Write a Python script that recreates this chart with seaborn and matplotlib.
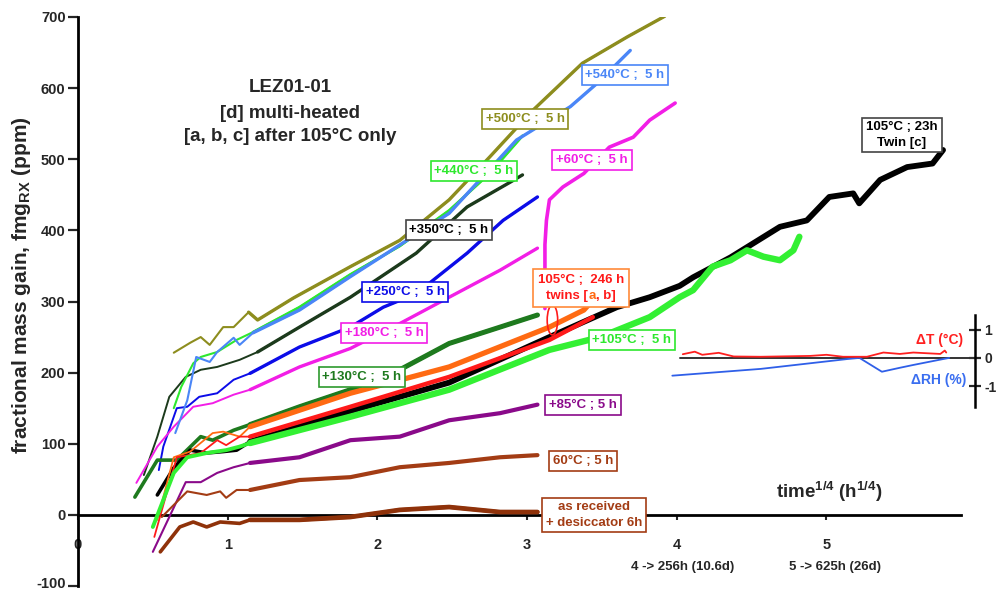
import numpy as np
import seaborn as sns
import matplotlib
matplotlib.use("Agg")
import matplotlib.pyplot as plt
import matplotlib.transforms as mtransforms
from matplotlib.patches import Ellipse
from matplotlib.offsetbox import TextArea, HPacker, VPacker, AnnotationBbox

# ---------------- data (time^1/4 in h^1/4, fractional mass gain in ppm) ----------------
s500_x = [0.64, 0.75, 0.82, 0.88, 0.97, 1.04, 1.14, 1.20, 1.44, 1.82, 2.15, 2.48, 2.75, 3.04, 3.37, 3.67, 3.92]
s500_y = [228, 242, 250, 239, 264, 264, 285, 274, 305, 349, 386, 443, 503, 569, 635, 672, 701]

s540_x = [0.65, 0.73, 0.79, 0.88, 0.93, 1.04, 1.08, 1.17, 1.48, 1.82, 2.48, 2.93, 3.29, 3.47, 3.69]
s540_y = [115, 161, 222, 215, 229, 249, 239, 256, 288, 335, 424, 527, 574, 607, 653]

s440_x = [0.64, 0.69, 0.77, 0.82, 0.93, 1.06, 1.17, 1.48, 1.82, 2.15, 2.48, 2.75, 2.97]
s440_y = [150, 180, 213, 222, 229, 246, 257, 292, 338, 378, 428, 480, 533]

s350_x = [0.44, 0.53, 0.61, 0.72, 0.82, 0.93, 1.08, 1.20, 1.48, 1.82, 2.26, 2.60, 2.89, 2.97]
s350_y = [56, 110, 166, 194, 204, 208, 218, 229, 264, 306, 368, 433, 468, 478]

s250_x = [0.54, 0.57, 0.66, 0.73, 0.81, 0.93, 1.04, 1.15, 1.48, 1.82, 2.04, 2.26, 2.60, 2.84, 3.07]
s250_y = [63, 96, 150, 152, 166, 171, 190, 199, 236, 264, 292, 311, 368, 414, 447]

s180_x = [0.39, 0.53, 0.64, 0.77, 0.90, 1.04, 1.15, 1.48, 1.82, 2.15, 2.48, 2.82, 3.07]
s180_y = [45, 96, 124, 152, 157, 169, 176, 208, 234, 269, 306, 344, 375]

s60b_x = [3.12, 3.12, 3.13, 3.15, 3.24, 3.38, 3.55, 3.71, 3.82, 3.99]
s60b_y = [290, 380, 414, 443, 461, 480, 517, 531, 555, 579]

s130_x = [0.38, 0.53, 0.66, 0.82, 0.90, 1.04, 1.15, 1.48, 1.82, 2.15, 2.48, 2.82, 3.07]
s130_y = [25, 77, 77, 110, 105, 119, 127, 152, 176, 204, 241, 264, 281]

twa_x = [0.53, 0.64, 0.75, 0.90, 0.97, 1.08, 1.15, 1.82, 2.48, 3.15, 3.38, 3.44]
twa_y = [-7, 81, 89, 115, 117, 110, 124, 171, 208, 264, 288, 302]

twb_x = [0.51, 0.66, 0.82, 0.93, 0.99, 1.08, 1.15, 1.82, 2.48, 3.15, 3.44]
twb_y = [-31, 81, 87, 105, 98, 110, 110, 152, 194, 246, 278]

twc_x = [0.53, 0.64, 0.75, 0.86, 0.97, 1.06, 1.15, 1.82, 2.48, 3.15, 3.60, 3.82, 4.02, 4.11, 4.36,
         4.69, 4.87, 5.02, 5.18, 5.22, 5.36, 5.54, 5.71, 5.78]
twc_y = [28, 66, 91, 87, 89, 91, 103, 146, 186, 250, 292, 306, 322, 334, 362,
         405, 414, 447, 452, 438, 471, 489, 494, 513]

s105_x = [0.50, 0.57, 0.64, 0.73, 0.86, 0.99, 1.08, 1.15, 1.82, 2.48, 3.15, 3.49, 3.82, 4.02, 4.11,
          4.24, 4.36, 4.47, 4.58, 4.69, 4.78, 4.82]
s105_y = [-17, 21, 59, 81, 87, 91, 96, 101, 138, 176, 232, 250, 278, 306, 316,
          349, 358, 372, 363, 358, 372, 391]

s85_x = [0.50, 0.72, 0.82, 0.93, 1.04, 1.15, 1.48, 1.82, 2.15, 2.48, 2.82, 3.07]
s85_y = [-52, 46, 46, 59, 67, 73, 81, 105, 110, 133, 143, 155]

s60_x = [0.56, 0.73, 0.86, 0.95, 0.99, 1.06, 1.15, 1.48, 1.82, 2.15, 2.48, 2.82, 3.07]
s60_y = [-3, 33, 28, 33, 24, 35, 35, 49, 53, 67, 73, 81, 84]

sar_x = [0.55, 0.68, 0.77, 0.86, 0.95, 1.08, 1.15, 1.48, 1.82, 2.15, 2.48, 2.82, 3.07]
sar_y = [-52, -17, -10, -17, -10, -12, -7, -7, -3, 7, 11, 4, 4]

# environment deviations (inset)
dT_x = [4.04, 4.12, 4.17, 4.28, 4.38, 4.56, 4.89, 5.00, 5.11, 5.27, 5.38, 5.49, 5.58, 5.76, 5.79, 5.80]
dT_y = [0.13, 0.22, 0.11, 0.18, 0.05, 0.04, 0.07, 0.11, 0.04, 0.04, 0.19, 0.14, 0.19, 0.14, 0.26, 0.19]
dRH_x = [3.97, 4.56, 5.14, 5.22, 5.37, 5.49, 5.58, 5.78, 5.82]
dRH_y = [-0.63, -0.39, -0.04, 0.0, -0.49, -0.35, -0.25, -0.04, 0.0]

x_ticks = [0, 1, 2, 3, 4, 5]
y_ticks = [-100, 0, 100, 200, 300, 400, 500, 600, 700]
inset_ticks = [-1, 0, 1]

# ---------------- style ----------------
sns.set_theme(style="white")
plt.rcParams['font.family'] = ['Liberation Sans', 'DejaVu Sans']
plt.rcParams['font.weight'] = 'bold'
plt.rcParams['mathtext.fontset'] = 'custom'
plt.rcParams['mathtext.rm'] = 'Liberation Sans:bold'
plt.rcParams['mathtext.bf'] = 'Liberation Sans:bold'
plt.rcParams['mathtext.it'] = 'Liberation Sans:bold'

W, H = 998, 592
fig = plt.figure(figsize=(W / 100, H / 100), dpi=100)
fig.patch.set_facecolor('white')


def fx(px):
    return px / W


def fy(py):
    return 1 - py / H


ax = fig.add_axes([fx(78), fy(586), fx(961) - fx(78), fy(17) - fy(586)])
ax.set_facecolor('none')
ax.set_xlim(0, 5.9)
ax.set_ylim(-100, 700)


def draw(x, y, color, lw0, lw1, z, split=1.1):
    x = np.asarray(x, float)
    y = np.asarray(y, float)
    sns.lineplot(x=x, y=y, color=color, lw=lw0, sort=False, estimator=None, ax=ax, zorder=z)
    m = x >= split
    if m.sum() > 1:
        sns.lineplot(x=x[m], y=y[m], color=color, lw=lw1, sort=False, estimator=None, ax=ax, zorder=z,
                     solid_joinstyle='round')


draw(s500_x, s500_y, '#8d8d1e', 1.5, 2.4, 3)
draw(s540_x, s540_y, '#4a86f7', 1.5, 2.4, 3.2)
draw(s440_x, s440_y, '#2ee82e', 1.5, 2.0, 3.1)
draw(s350_x, s350_y, '#1c3a1c', 1.4, 2.4, 3)
draw(s250_x, s250_y, '#0c0ce8', 1.4, 2.4, 3)
draw(s180_x, s180_y, '#f21ee6', 1.4, 2.4, 3)
draw(s60b_x, s60b_y, '#f21ee6', 1.4, 2.6, 2)
draw(s130_x, s130_y, '#1e7a1e', 2.6, 3.6, 3)
draw(twc_x, twc_y, '#000000', 2.6, 4.2, 3)
draw(twa_x, twa_y, '#ff6a12', 1.3, 3.8, 3.1)
draw(twb_x, twb_y, '#ff1a1a', 1.3, 3.2, 3.2)
draw(s105_x, s105_y, '#33f033', 2.8, 4.6, 3.3)
draw(s85_x, s85_y, '#8a0a8a', 1.5, 3.0, 3)
draw(s60_x, s60_y, '#a33c14', 1.5, 3.0, 3)
draw(sar_x, sar_y, '#8f320a', 2.6, 3.4, 3)

# axes styling
for s in ['top', 'right']:
    ax.spines[s].set_visible(False)
ax.spines['bottom'].set_position(('data', 0))
ax.spines['left'].set_linewidth(2.0)
ax.spines['bottom'].set_linewidth(2.0)
ax.spines['left'].set_color('black')
ax.spines['bottom'].set_color('black')
ax.set_xticks(x_ticks)
ax.set_yticks(y_ticks)
ax.set_xticklabels([str(t) for t in x_ticks], fontsize=10.5, fontweight='bold')
ax.set_yticklabels([str(t) for t in y_ticks], fontsize=10.5, fontweight='bold')
ax.tick_params(axis='y', direction='out', length=7, width=1.6, pad=2, left=True)
ax.tick_params(axis='x', direction='out', length=3.5, width=1.5, pad=13, bottom=True)
ax.grid(False)
# keep the lowest tick label inside the picture
lab = ax.get_yticklabels()[0]
lab.set_transform(lab.get_transform() + mtransforms.ScaledTranslation(0, 3 / 100, fig.dpi_scale_trans))

# labels
fig.text(fx(22), fy(285), r'fractional mass gain, fmg$_{\mathregular{RX}}$ (ppm)', rotation=90,
         ha='center', va='center', fontsize=15, fontweight='bold')
fig.text(fx(829), fy(492), r'time$^{\mathregular{1/4}}$ (h$^{\mathregular{1/4}}$)', ha='center', va='center',
         fontsize=13.5, fontweight='bold')
fig.text(fx(683), fy(567), '4 -> 256h (10.6d)', ha='center', va='center', fontsize=9.5, fontweight='bold')
fig.text(fx(835), fy(567), '5 -> 625h (26d)', ha='center', va='center', fontsize=9.5, fontweight='bold')

for txt, py in [('LEZ01-01', 88), ('[d] multi-heated', 113), ('[a, b, c] after 105°C only', 137)]:
    fig.text(fx(290), fy(py), txt, ha='center', va='center', fontsize=13.5, fontweight='bold')


def boxlabel(px, py, text, color, edge=None, fs=9.5):
    fig.text(fx(px), fy(py), text, ha='center', va='center', fontsize=fs, fontweight='bold', color=color,
             linespacing=1.35, zorder=10,
             bbox=dict(boxstyle='square,pad=0.28', fc='white', ec=edge or color, lw=1.2))


boxlabel(625, 75, '+540°C ;  5 h', '#4a86f7')
boxlabel(525, 119, '+500°C ;  5 h', '#8d8d1e')
boxlabel(592, 160, '+60°C ;  5 h', '#f21ee6')
boxlabel(474, 171, '+440°C ;  5 h', '#2ee82e')
boxlabel(449, 230, '+350°C ;  5 h', '#000000', '#444444')
boxlabel(405, 292, '+250°C ;  5 h', '#0c0ce8')
boxlabel(384, 333, '+180°C ;  5 h', '#f21ee6')
boxlabel(362, 377, '+130°C ;  5 h', '#1e7a1e', '#2e9a2e')
boxlabel(632, 340, '+105°C ;  5 h', '#2ee82e')
boxlabel(583, 405, '+85°C ; 5 h', '#8a0a8a')
boxlabel(583, 461, '60°C ; 5 h', '#a33c14')
boxlabel(594, 515, 'as received\n+ desiccator 6h', '#a33c14')
boxlabel(902, 135, '105°C ; 23h\nTwin [c]', '#000000', '#444444')

# twins [a, b] label with mixed colours
tp = dict(fontsize=9.5, fontweight='bold')
line1 = TextArea('105°C ;  246 h', textprops=dict(color='#ff1a1a', **tp))
line2 = HPacker(children=[TextArea('twins [', textprops=dict(color='#ff1a1a', **tp)),
                          TextArea('a', textprops=dict(color='#ff6a12', **tp)),
                          TextArea(', b]', textprops=dict(color='#ff1a1a', **tp))], align='baseline', pad=0, sep=0)
vbox = VPacker(children=[line1, line2], align='center', pad=0, sep=3)
ab = AnnotationBbox(vbox, (fx(581), fy(288)), xycoords='figure fraction', frameon=True, pad=0.3,
                    bboxprops=dict(boxstyle='square,pad=0.3', fc='white', ec='#ff8a3a', lw=1.2), zorder=10)
fig.add_artist(ab)
ax.add_patch(Ellipse((3.17, 274), 0.07, 42, fill=False, ec='#ff1a1a', lw=1.2, zorder=6))

# inset: temperature / RH deviations
iax = fig.add_axes([fx(78), fy(407), fx(975) - fx(78), fy(315) - fy(407)])
iax.set_facecolor('none')
iax.set_xlim(0, (975 - 78) / 149.7)
iax.set_ylim(-1.74, 1.52)
for s in ['top', 'left', 'bottom']:
    iax.spines[s].set_visible(False)
iax.spines['right'].set_linewidth(1.8)
iax.spines['right'].set_color('black')
iax.axhline(0, xmin=4.02 / ((975 - 78) / 149.7), xmax=1, color='#333333', lw=1.4, zorder=1)
sns.lineplot(x=dT_x, y=dT_y, color='#ff2020', lw=1.3, sort=False, estimator=None, ax=iax, zorder=3)
sns.lineplot(x=dRH_x, y=dRH_y, color='#2f5fe8', lw=1.3, sort=False, estimator=None, ax=iax, zorder=2)
iax.set_xticks([])
iax.yaxis.tick_right()
iax.set_yticks(inset_ticks)
iax.set_yticklabels([str(t) for t in inset_ticks], fontsize=10, fontweight='bold')
iax.tick_params(axis='y', direction='inout', length=9, width=1.6, pad=2, right=True, left=False)
iax.set_xlabel('')
iax.set_ylabel('')
iax.grid(False)
fig.text(fx(940), fy(340), 'ΔT (°C)', ha='center', va='center', fontsize=10, fontweight='bold', color='#ff2020')
fig.text(fx(939), fy(380), 'ΔRH (%)', ha='center', va='center', fontsize=10, fontweight='bold', color='#3a6ef0')

ax.set_xlabel('')
ax.set_ylabel('')
fig.savefig('out.png', dpi=100)
